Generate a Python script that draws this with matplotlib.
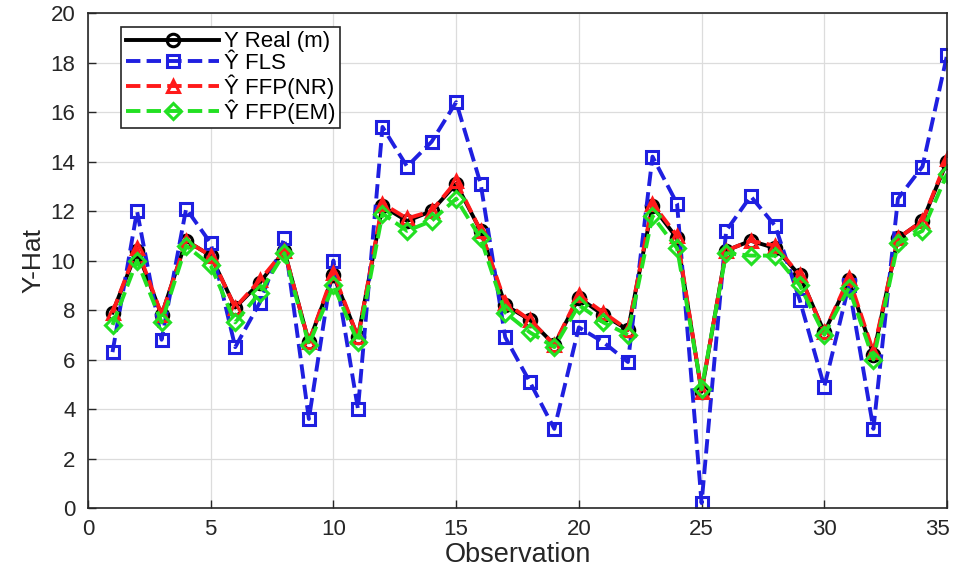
import matplotlib.pyplot as plt
import matplotlib.transforms as mtransforms
import numpy as np

plt.rcParams['font.family'] = ['Liberation Sans', 'DejaVu Sans']

obs = np.arange(1, 36)

y_real = [7.9, 10.4, 7.8, 10.8, 10.2, 8.1, 9.1, 10.4, 6.7, 9.4,
          6.9, 12.2, 11.6, 12.0, 13.1, 11.2, 8.2, 7.6, 6.6, 8.5,
          7.8, 7.2, 12.2, 10.9, 4.7, 10.4, 10.8, 10.5, 9.4, 7.1,
          9.2, 6.2, 10.9, 11.6, 14.0]

y_fls = [6.3, 12.0, 6.8, 12.1, 10.7, 6.5, 8.3, 10.9, 3.6, 10.0,
         4.0, 15.4, 13.8, 14.8, 16.4, 13.1, 6.9, 5.1, 3.2, 7.3,
         6.7, 5.9, 14.2, 12.3, 0.2, 11.2, 12.6, 11.4, 8.4, 4.9,
         9.0, 3.2, 12.5, 13.8, 18.3]

y_nr = [7.9, 10.5, 7.8, 10.8, 10.2, 8.1, 9.2, 10.4, 6.7, 9.5,
        6.9, 12.3, 11.7, 12.0, 13.2, 11.2, 8.3, 7.6, 6.6, 8.6,
        7.9, 7.2, 12.3, 11.0, 4.7, 10.4, 10.8, 10.6, 9.4, 7.1,
        9.3, 6.3, 10.9, 11.6, 14.1]

y_em = [7.4, 10.0, 7.5, 10.6, 9.8, 7.5, 8.7, 10.3, 6.6, 9.0,
        6.7, 11.9, 11.2, 11.6, 12.5, 10.9, 7.9, 7.1, 6.5, 8.2,
        7.5, 7.0, 11.8, 10.5, 4.8, 10.3, 10.2, 10.2, 9.0, 7.0,
        8.9, 6.0, 10.7, 11.2, 13.5]

fig = plt.figure(figsize=(9.54, 5.69), dpi=100)
ax = fig.add_axes([0.0922, 0.1072, 0.9005, 0.8698])

ax.plot(obs, y_real, '-o', color='black', lw=2.8, ms=9, mfc='none', mew=2.2,
        label='Y Real (m)')
ax.plot(obs, y_fls, '--s', color='#1f1fe0', lw=2.8, ms=9, mfc='none', mew=2.2,
        label='Ŷ FLS')
ax.plot(obs, y_nr, '--^', color='#ff1a1a', lw=2.8, ms=9, mfc='none', mew=2.2,
        label='Ŷ FFP(NR)')
ax.plot(obs, y_em, '--D', color='#22e022', lw=2.8, ms=8, mfc='none', mew=2.2,
        label='Ŷ FFP(EM)')

ax.set_xlim(0, 35)
ax.set_ylim(0, 20)
ax.set_xticks(np.arange(0, 36, 5))
ax.set_yticks(np.arange(0, 21, 2))
ax.tick_params(direction='in', labelsize=16, length=6, width=1, colors='#262626')
ax.tick_params(axis='x', pad=8)
ax.tick_params(axis='y', pad=9)
ax.grid(True, color='#dcdcdc', lw=0.9)
ax.set_axisbelow(True)
for s in ax.spines.values():
    s.set_color('#262626')
    s.set_linewidth(1.2)

# keep the last x tick label inside the figure
fig.canvas.draw()
last = ax.get_xticklabels()[-1]
last.set_transform(last.get_transform() +
                   mtransforms.ScaledTranslation(-7 / 72, 0, fig.dpi_scale_trans))

ax.set_xlabel('Observation', fontsize=19.5, color='#262626', labelpad=1)
ax.set_ylabel('Y-Hat', fontsize=19, color='#262626', labelpad=4)

leg = ax.legend(loc='upper left', bbox_to_anchor=(0.039, 0.972), fontsize=16,
                fancybox=False, framealpha=1, edgecolor='#262626',
                handlelength=4.2, handletextpad=0.2, borderpad=0.2,
                labelspacing=0.02, borderaxespad=0)
leg.get_frame().set_linewidth(1.2)

fig.savefig('out.png', dpi=100)
